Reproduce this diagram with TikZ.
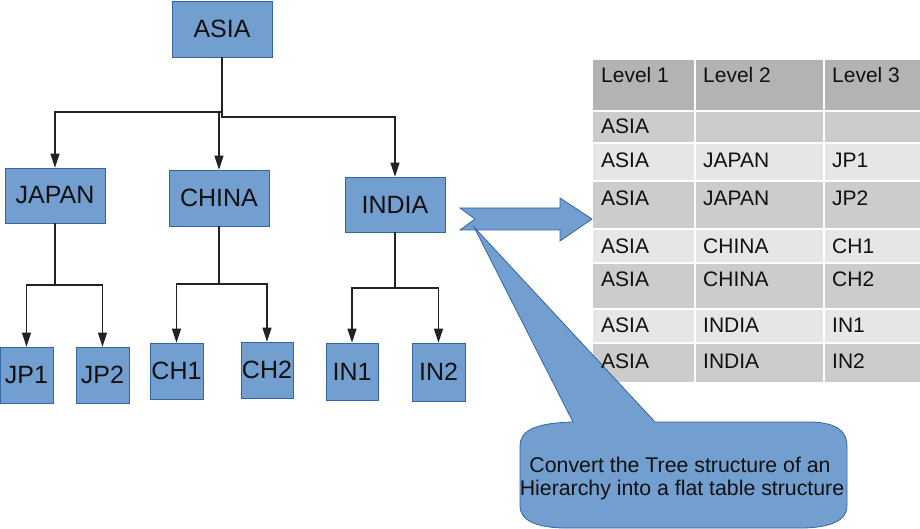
\documentclass[tikz,border=0pt]{standalone}
\usepackage{fontspec}
\setmainfont{Liberation Sans}
\usetikzlibrary{arrows.meta}
\definecolor{nodeblue}{HTML}{729FCF}
\definecolor{nodeedge}{HTML}{3465A4}
\definecolor{linegray}{HTML}{222222}
\definecolor{hdrgray}{HTML}{B3B3B3}
\definecolor{darkrow}{HTML}{CCCCCC}
\definecolor{lightrow}{HTML}{E6E6E6}
\definecolor{txt}{HTML}{111111}
\begin{document}
\begin{tikzpicture}[x=1pt,y=-1pt,
  tbox/.style={draw=nodeedge, fill=nodeblue, line width=0.8pt, inner sep=0pt,
    font=\fontsize{25}{30}\selectfont, text=txt},
  conn/.style={draw=linegray, line width=1.3pt, -{Triangle[length=14pt,width=9pt]}},
  cell/.style={anchor=base west, inner sep=0pt, font=\fontsize{21}{24}\selectfont, text=txt},
  ctext/.style={anchor=base, inner sep=0pt, font=\fontsize{21.3}{24}\selectfont, text=txt},
  sep/.style={draw=white, line width=2pt},
  bigshape/.style={fill=nodeblue, draw=nodeedge, line width=0.8pt}
]
\useasboundingbox (0,0) rectangle (920,529);
\fill[white] (0,0) rectangle (920,529);
\begin{scope}
\clip (0,0) rectangle (920,529);

% ---------- tree ----------
\node[tbox, minimum width=100pt, minimum height=56pt] (ASIA) at (222,29) {ASIA};
\node[tbox, minimum width=100pt, minimum height=55pt] (JAPAN) at (55,195.5) {JAPAN};
\node[tbox, minimum width=100pt, minimum height=56pt] (CHINA) at (219,198) {CHINA};
\node[tbox, minimum width=100pt, minimum height=55pt] (INDIA) at (395,204.5) {INDIA};

\node[tbox, minimum width=53pt, minimum height=56pt] (JP1) at (26.5,375) {JP1};
\node[tbox, minimum width=53pt, minimum height=56pt] (JP2) at (102.5,375) {JP2};
\node[tbox, minimum width=53pt, minimum height=56pt] (CH1) at (176.5,371) {CH1};
\node[tbox, minimum width=52pt, minimum height=56pt] (CH2) at (267,370) {CH2};
\node[tbox, minimum width=52pt, minimum height=57pt] (IN1) at (352,371.5) {IN1};
\node[tbox, minimum width=53pt, minimum height=58pt] (IN2) at (438.5,372) {IN2};

\coordinate (b1) at (222,112);
\coordinate (b2) at (219,112);
\coordinate (b3) at (222,117);
\draw[conn] (ASIA.south) -- (b1) -| (JAPAN.north);
\draw[conn] (b2) -- (CHINA.north);
\draw[conn] (b1) -- (b3) -| (INDIA.north);

\coordinate (jb) at (55,285);
\draw[conn] (JAPAN.south) -- (jb) -| (JP1.north);
\draw[conn] (jb) -| (JP2.north);
\coordinate (cb) at (219,284);
\draw[conn] (CHINA.south) -- (cb) -| (CH1.north);
\draw[conn] (cb) -| (CH2.north);
\coordinate (ib) at (395,288);
\draw[conn] (INDIA.south) -- (ib) -| (IN1.north);
\draw[conn] (ib) -| (IN2.north);

% ---------- table background ----------
\fill[hdrgray]  (593,60)  rectangle (920,111);
\fill[darkrow]  (593,111) rectangle (920,143.5);
\fill[lightrow] (593,143.5) rectangle (920,181);
\fill[darkrow]  (593,181) rectangle (920,229);
\fill[lightrow] (593,229) rectangle (920,262.5);
\fill[darkrow]  (593,262.5) rectangle (920,308.5);
\fill[lightrow] (593,308.5) rectangle (920,343);
\fill[darkrow]  (593,343) rectangle (920,382);
\foreach \yy in {111,143.5,181,229,262.5,308.5,343}
  \draw[sep] (593,\yy) -- (920,\yy);
\foreach \xx in {695,824}
  \draw[sep] (\xx,60) -- (\xx,382);
\draw[sep] (593,59) -- (920,59);

% ---------- big arrow ----------
\draw[bigshape] (460,208) -- (560,208) -- (560,198) -- (592,219) -- (560,241)
  -- (560,230) -- (460,230) -- (475,219) -- cycle;

% ---------- callout ----------
\draw[bigshape] (573,422) -- (474,227) -- (655,422) -- (812,422)
  .. controls (838,423) and (847,432) .. (847,446)
  -- (847,506)
  .. controls (847,520) and (832,527) .. (805,528)
  -- (562,528)
  .. controls (535,527) and (520,520) .. (520,506)
  -- (520,446)
  .. controls (520,432) and (532,423) .. (573,422) -- cycle;
\node[ctext] (c1) at (680,472) {Convert the Tree structure of an};
\node[ctext] (c2) at (682,495) {Hierarchy into a flat table structure};

% ---------- table text ----------
\node[cell] (h1) at (601,83) {Level 1};
\node[cell] (h2) at (703,83) {Level 2};
\node[cell] (h3) at (832,83) {Level 3};
\node[cell] (r11) at (601,134) {ASIA};
\node[cell] (r21) at (601,168) {ASIA};
\node[cell] (r22) at (703,168) {JAPAN};
\node[cell] (r23) at (832,168) {JP1};
\node[cell] (r31) at (601,206) {ASIA};
\node[cell] (r32) at (703,206) {JAPAN};
\node[cell] (r33) at (832,206) {JP2};
\node[cell] (r41) at (601,254) {ASIA};
\node[cell] (r42) at (703,254) {CHINA};
\node[cell] (r43) at (832,254) {CH1};
\node[cell] (r51) at (601,286) {ASIA};
\node[cell] (r52) at (703,286) {CHINA};
\node[cell] (r53) at (832,286) {CH2};
\node[cell] (r61) at (601,332) {ASIA};
\node[cell] (r62) at (703,332) {INDIA};
\node[cell] (r63) at (832,332) {IN1};
\node[cell] (r71) at (601,368) {ASIA};
\node[cell] (r72) at (703,368) {INDIA};
\node[cell] (r73) at (832,368) {IN2};
\end{scope}
\end{tikzpicture}
\end{document}
